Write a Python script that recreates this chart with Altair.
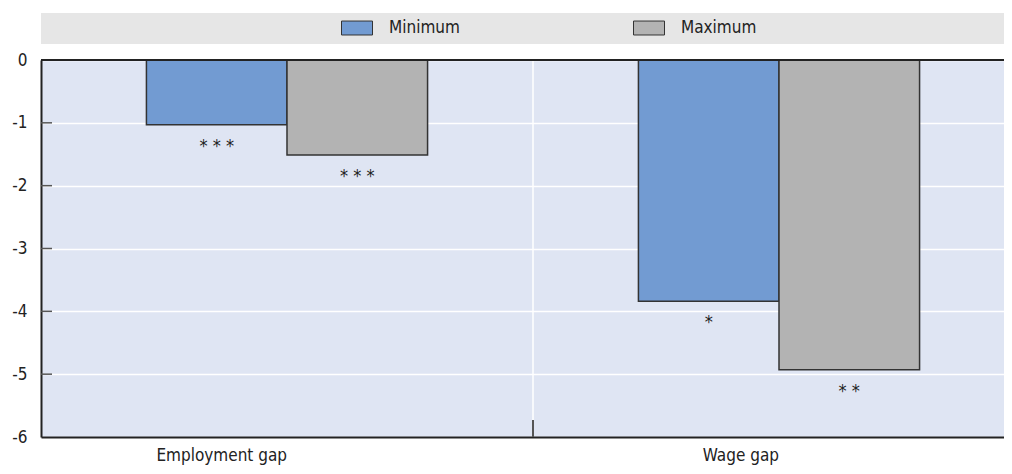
import altair as alt
import pandas as pd

categories = ["Employment gap", "Wage gap"]
series = ["Minimum", "Maximum"]
minimum_vals = [-1.03, -3.84]
maximum_vals = [-1.51, -4.93]
minimum_sig = ["* * *", "*"]
maximum_sig = ["* * *", "* *"]
y_ticks = [0, -1, -2, -3, -4, -5, -6]

rows = []
for i, c in enumerate(categories):
    rows.append({"cat": c, "series": "Minimum", "value": minimum_vals[i], "sig": minimum_sig[i]})
    rows.append({"cat": c, "series": "Maximum", "value": maximum_vals[i], "sig": maximum_sig[i]})
df = pd.DataFrame(rows)

FONT = "DejaVu Sans Condensed, DejaVu Sans, sans-serif"
W, H = 984, 377

x_enc = alt.X("cat:N", sort=categories, title=None,
              scale=alt.Scale(paddingInner=0, paddingOuter=0),
              axis=alt.Axis(labelAngle=0, labelFontSize=17, labelColor="#222", labelFont=FONT,
                            ticks=False, labelPadding=18, domainColor="#222", domainWidth=2,
                            grid=False))
y_scale = alt.Scale(domain=[-6, 0], nice=False)
y_enc = alt.Y("value:Q", scale=y_scale, title=None,
              axis=alt.Axis(values=y_ticks,
                            labelExpr="datum.value == 0 ? '0' : '-' + abs(datum.value)",
                            labelFontSize=17, labelColor="#222",
                            labelFont=FONT, ticks=False, tickSize=0, labelPadding=14,
                            domainColor="#222", domainWidth=2,
                            grid=True, gridColor="#ffffff", gridWidth=1.5))
xoff = alt.XOffset("series:N", sort=series, scale=alt.Scale(paddingInner=0, paddingOuter=0.75))
color = alt.Color("series:N", sort=series, title=None,
                  scale=alt.Scale(domain=series, range=["#729bd2", "#b3b3b3"]),
                  legend=alt.Legend(orient="none", legendX=300, legendY=-48, direction="horizontal",
                                    symbolType="M-1,-0.45H1V0.45H-1Z", symbolSize=961,
                                    symbolStrokeColor="#333", symbolStrokeWidth=1, symbolOpacity=1,
                                    labelFontSize=17, labelFont=FONT, labelColor="#222",
                                    labelOffset=16, columnPadding=166, gridAlign="all", padding=0))

base = alt.Chart(df)

legend_band = alt.Chart(pd.DataFrame({"a": [0]})).mark_rect(color="#e6e6e6", clip=False).encode(
    x=alt.value(0), x2=alt.value(W), y=alt.value(-47), y2=alt.value(-16))

bars = base.mark_bar(stroke="#333", strokeWidth=1.5).encode(
    x=x_enc, xOffset=xoff, y=y_enc, y2=alt.datum(0), color=color)

stars = base.mark_text(fontSize=18, font=FONT, color="#222", baseline="middle", dy=22).encode(
    x=alt.X("cat:N", sort=categories), xOffset=alt.XOffset("series:N", sort=series),
    y=alt.Y("value:Q"), text="sig:N")

sep_df = pd.DataFrame({"cat": [categories[1]]})
sep_white = alt.Chart(sep_df).mark_rule(color="#ffffff", strokeWidth=1.5).encode(
    x=alt.X("cat:N", sort=categories, bandPosition=0), y=alt.value(0), y2=alt.value(H - 17))
sep_dark = alt.Chart(sep_df).mark_rule(color="#555555", strokeWidth=2).encode(
    x=alt.X("cat:N", sort=categories, bandPosition=0), y=alt.value(H - 17), y2=alt.value(H))

tick_df = pd.DataFrame({"value": y_ticks[1:-1]})
yticks = alt.Chart(tick_df).mark_rule(color="#555555", strokeWidth=1.5).encode(
    y=alt.Y("value:Q"), x=alt.value(0), x2=alt.value(11))

zero = alt.Chart(pd.DataFrame({"value": [0]})).mark_rule(color="#222", strokeWidth=2).encode(
    y=alt.Y("value:Q"), x=alt.value(0), x2=alt.value(W))

chart = alt.layer(legend_band, sep_white, bars, stars, sep_dark, yticks, zero).properties(
    width=W, height=H,
    background="#ffffff",
    autosize=alt.AutoSizeParams(type="none"),
    padding={"left": 33, "top": 52, "right": -21, "bottom": 36},
).configure_view(fill="#dfe5f3", stroke=None)

chart.save("out.html", embed_options={"renderer": "svg", "actions": False})
